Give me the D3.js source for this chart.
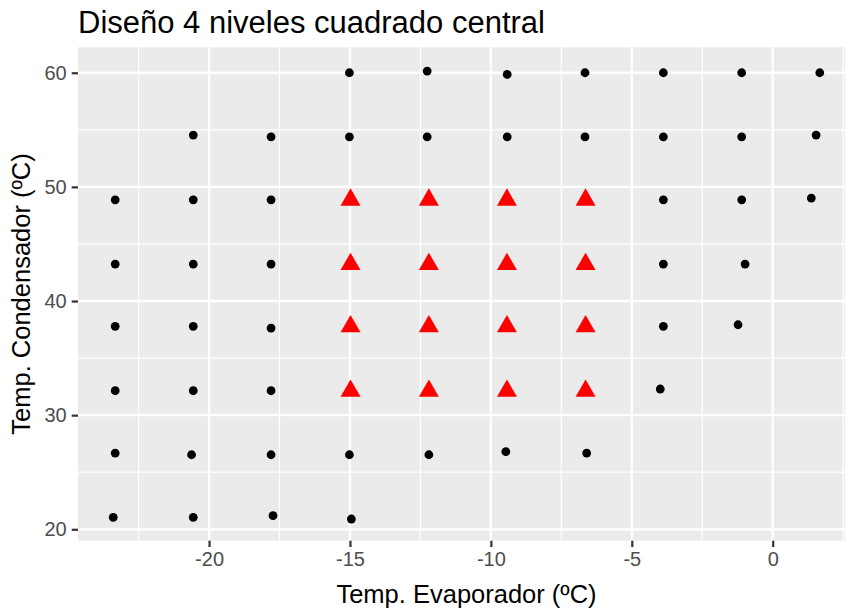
<!DOCTYPE html>
<html>
<head>
<meta charset="utf-8">
<script src="https://cdn.jsdelivr.net/npm/d3@7"></script>
<style>
  html, body { margin: 0; padding: 0; background: #ffffff; }
  svg { display: block; font-family: Arial, "Liberation Sans", sans-serif; }
</style>
</head>
<body>
<svg id="chart" width="845" height="613"></svg>
<script>
// ---- Data ----
const titleText = "Diseño 4 niveles cuadrado central";
const xLabel = "Temp. Evaporador (ºC)";
const yLabel = "Temp. Condensador (ºC)";

// Black circles (outer points)
const circleEvap = [
  -15.02, -12.26, -9.42, -6.66, -3.88, -1.10, 1.67,
  -20.56, -17.80, -15.02, -12.26, -9.42, -6.66, -3.88, -1.10, 1.54,
  -23.33, -20.56, -17.80, -3.88, -1.10, 1.37,
  -23.33, -20.56, -17.80, -3.88, -0.98,
  -23.33, -20.56, -17.80, -3.88, -1.23,
  -23.33, -20.56, -17.80, -3.99,
  -23.33, -20.62, -17.80, -15.02, -12.20, -9.47, -6.60,
  -23.40, -20.56, -17.73, -14.95
];
const circleCond = [
  60.00, 60.15, 59.85, 60.00, 60.00, 60.00, 60.00,
  54.54, 54.39, 54.39, 54.39, 54.39, 54.39, 54.39, 54.39, 54.54,
  48.87, 48.87, 48.87, 48.87, 48.87, 49.02,
  43.24, 43.24, 43.24, 43.24, 43.24,
  37.78, 37.78, 37.63, 37.78, 37.92,
  32.14, 32.14, 32.14, 32.29,
  26.68, 26.53, 26.53, 26.53, 26.53, 26.80, 26.68,
  21.05, 21.05, 21.19, 20.90
];

// Red triangles (central square design)
const triEvap = [
  -14.98, -12.20, -9.43, -6.64,
  -14.98, -12.20, -9.43, -6.64,
  -14.98, -12.20, -9.43, -6.64,
  -14.98, -12.20, -9.43, -6.64
];
const triCond = [
  48.86, 48.86, 48.86, 48.86,
  43.22, 43.22, 43.22, 43.22,
  37.76, 37.76, 37.76, 37.76,
  32.12, 32.12, 32.12, 32.12
];

const xTicks = [-20, -15, -10, -5, 0];
const xMinor = [-22.5, -17.5, -12.5, -7.5, -2.5, 2.5];
const yTicks = [20, 30, 40, 50, 60];
const yMinor = [25, 35, 45, 55];

// ---- Layout ----
const panel = { left: 78, right: 855, top: 47.3, bottom: 540.7 };

const x = d3.scaleLinear().domain([-24.65, 2.92]).range([panel.left, panel.right]);
const y = d3.scaleLinear().domain([19.0, 62.23]).range([panel.bottom, panel.top]);

const svg = d3.select("#chart");

// panel background
svg.append("rect")
  .attr("x", panel.left).attr("y", panel.top)
  .attr("width", panel.right - panel.left).attr("height", panel.bottom - panel.top)
  .attr("fill", "#EBEBEB");

const grid = svg.append("g");
// minor grid
grid.selectAll("line.xminor").data(xMinor).join("line")
  .attr("x1", d => x(d)).attr("x2", d => x(d))
  .attr("y1", panel.top).attr("y2", panel.bottom)
  .attr("stroke", "#ffffff").attr("stroke-width", 1.2);
grid.selectAll("line.yminor").data(yMinor).join("line")
  .attr("y1", d => y(d)).attr("y2", d => y(d))
  .attr("x1", panel.left).attr("x2", panel.right)
  .attr("stroke", "#ffffff").attr("stroke-width", 1.2);
// major grid
grid.selectAll("line.xmajor").data(xTicks).join("line")
  .attr("x1", d => x(d)).attr("x2", d => x(d))
  .attr("y1", panel.top).attr("y2", panel.bottom)
  .attr("stroke", "#ffffff").attr("stroke-width", 2.3);
grid.selectAll("line.ymajor").data(yTicks).join("line")
  .attr("y1", d => y(d)).attr("y2", d => y(d))
  .attr("x1", panel.left).attr("x2", panel.right)
  .attr("stroke", "#ffffff").attr("stroke-width", 2.3);

// axes
const xAxis = d3.axisBottom(x).tickValues(xTicks).tickSize(6.3).tickPadding(5).tickFormat(d3.format("d"));
const yAxis = d3.axisLeft(y).tickValues(yTicks).tickSize(6.3).tickPadding(5).tickFormat(d3.format("d"));

const gx = svg.append("g").attr("transform", `translate(0,${panel.bottom})`).call(xAxis);
const gy = svg.append("g").attr("transform", `translate(${panel.left},0)`).call(yAxis);
[gx, gy].forEach(g => {
  g.select(".domain").remove();
  g.selectAll(".tick line").attr("stroke", "#333333").attr("stroke-width", 2.2);
  g.selectAll(".tick text").attr("fill", "#4D4D4D").style("font-size", "20px")
    .style("font-family", "Arial, 'Liberation Sans', sans-serif");
});
// hyphen-minus like R
gx.selectAll(".tick text").text(d => String(d));

// points
const circles = circleEvap.map((v, i) => ({ ev: v, co: circleCond[i] }));
const tris = triEvap.map((v, i) => ({ ev: v, co: triCond[i] }));

svg.append("g").selectAll("circle").data(circles).join("circle")
  .attr("cx", d => x(d.ev)).attr("cy", d => y(d.co))
  .attr("r", 4.4).attr("fill", "#000000");

const tri = d3.symbol().type(d3.symbolTriangle).size(173);
svg.append("g").selectAll("path").data(tris).join("path")
  .attr("transform", d => `translate(${x(d.ev)},${y(d.co)})`)
  .attr("d", tri).attr("fill", "#FF0000");

// titles
svg.append("text")
  .attr("x", 78).attr("y", 33)
  .attr("fill", "#000000").style("font-size", "31px")
  .text(titleText);

svg.append("text")
  .attr("x", (panel.left + panel.right) / 2).attr("y", 603)
  .attr("text-anchor", "middle").attr("fill", "#000000").style("font-size", "25.5px")
  .text(xLabel);

svg.append("text")
  .attr("transform", `translate(30,${(panel.top + panel.bottom) / 2}) rotate(-90)`)
  .attr("text-anchor", "middle").attr("fill", "#000000").style("font-size", "25.5px")
  .text(yLabel);
</script>
</body>
</html>
